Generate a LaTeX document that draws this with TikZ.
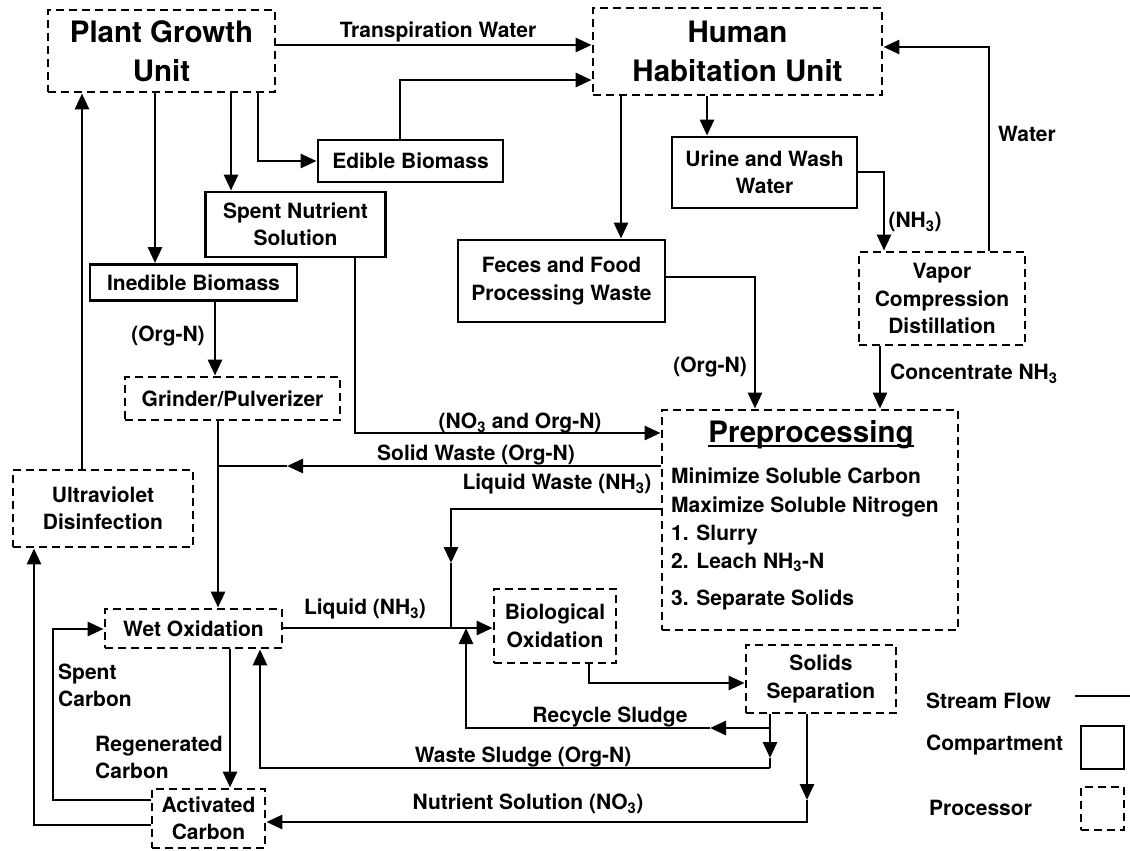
\documentclass[tikz,border=0pt]{standalone}
\usepackage{fontspec}
\setmainfont{TeX Gyre Heros}
\usetikzlibrary{arrows.meta}
\newcommand\lblfont{\fontsize{21}{27.5}\selectfont\bfseries}
\newcommand\bigfont{\fontsize{29.5}{39}\selectfont\bfseries}
\tikzset{
  box/.style={draw, line width=2.9pt, inner sep=0pt, align=center, font=\lblfont},
  comp/.style={box},
  proc/.style={box, dash pattern=on 8pt off 5pt},
  lbl/.style={font=\lblfont, inner sep=0pt, text height=15pt, text depth=0pt},
  mlbl/.style={font=\lblfont, inner sep=0pt, align=left},
  ptxt/.style={font=\lblfont, inner sep=0pt, anchor=base west},
  ln/.style={line width=2.9pt},
  arr/.style={line width=2.9pt, -{Triangle[length=16pt,width=14pt]}},
}
\begin{document}
\begin{tikzpicture}[x=1pt,y=-1pt]
\useasboundingbox (0,0) rectangle (1130,851);
% boxes
\node[proc, font=\bigfont, minimum width=227pt, minimum height=82pt] (pgu) at (161.5,51) {Plant Growth\\Unit};
\node[proc, font=\bigfont, minimum width=289pt, minimum height=87pt] (hhu) at (737.5,51.5) {Human\\Habitation Unit};
\node[comp, minimum width=185pt, minimum height=42pt] (eb) at (410.5,161) {Edible Biomass};
\node[comp, minimum width=180pt, minimum height=65pt] (sns) at (295.5,224.5) {Spent Nutrient\\Solution};
\node[comp, minimum width=207pt, minimum height=36pt] (ib) at (193.5,282.5) {Inedible Biomass};
\node[comp, minimum width=185pt, minimum height=71pt] (uww) at (764.5,172.5) {Urine and Wash\\Water};
\node[comp, minimum width=207pt, minimum height=82pt] (ffpw) at (561.5,281) {Feces and Food\\Processing Waste};
\node[proc, minimum width=166pt, minimum height=93pt] (vcd) at (942,298.5) {Vapor\\Compression\\Distillation};
\node[proc, minimum width=215pt, minimum height=43pt] (gp) at (232.5,398.5) {Grinder/Pulverizer};
\node[proc, minimum width=296pt, minimum height=220pt] (pp) at (810,520) {};
\node[proc, minimum width=180pt, minimum height=77pt] (uv) at (103,508.5) {Ultraviolet\\Disinfection};
\node[proc, minimum width=177pt, minimum height=39pt] (wo) at (193.5,628.5) {Wet Oxidation};
\node[proc, minimum width=122pt, minimum height=74pt] (bo) at (555,626) {Biological\\Oxidation};
\node[proc, minimum width=150pt, minimum height=68pt] (ss) at (821,679) {Solids\\Separation};
\node[proc, minimum width=113pt, minimum height=59pt] (ac) at (208.5,818.5) {Activated\\Carbon};
% preprocessing contents
\node[font=\bigfont, inner sep=0pt, anchor=base] (ttl) at (811,442) {Preprocessing};
\draw[line width=2pt] ([yshift=-3.5pt]ttl.base west) -- ([yshift=-3.5pt]ttl.base east);
\node[ptxt] (p1) at (671,483) {Minimize Soluble Carbon};
\node[ptxt] (p2) at (671,512) {Maximize Soluble Nitrogen};
\node[ptxt] (p3) at (671,540) {1. Slurry};
\node[ptxt] (p4) at (671,568) {2. Leach NH\textsubscript{3}-N};
\node[ptxt] (p5) at (671,605) {3. Separate Solids};
% labels
\node[lbl] (ltw) at (438,30) {Transpiration Water};
\node[lbl] (lorg1) at (168,334) {(Org-N)};
\node[lbl] (lno3) at (520,421) {(NO\textsubscript{3} and Org-N)};
\node[lbl] (lsw) at (476,453) {Solid Waste (Org-N)};
\node[lbl] (llw) at (557,482) {Liquid Waste (NH\textsubscript{3})};
\node[lbl] (lliq) at (365,607) {Liquid (NH\textsubscript{3})};
\node[lbl] (lrs) at (610,715) {Recycle Sludge};
\node[lbl] (lws) at (523,755) {Waste Sludge (Org-N)};
\node[lbl] (lns) at (528,802) {Nutrient Solution (NO\textsubscript{3})};
\node[mlbl, anchor=west] (lrc) at (95,757.5) {Regenerated\\Carbon};
\node[mlbl, anchor=west] (lsc) at (58,685.5) {Spent\\Carbon};
\node[lbl] (lnh3) at (915,220) {(NH\textsubscript{3})};
\node[lbl] (lwat) at (1027,134) {Water};
\node[lbl] (lorg2) at (710,365) {(Org-N)};
\node[lbl, anchor=west] (lcn) at (890,372) {Concentrate NH\textsubscript{3}};
% junction coordinates
\coordinate (sw) at (218,466);
\coordinate (swa) at (287,466);
\coordinate (lw1) at (451,509);
\coordinate (lwa) at (451,563);
\coordinate (lw2) at (451,628);
\coordinate (s1) at (770,728);
\coordinate (s1a) at (770,758);
\coordinate (s1b) at (770,768);
\coordinate (ra) at (710,728);
\coordinate (r2) at (466,728);
\coordinate (r3) at (466,628);
\coordinate (n1) at (807,800);
\coordinate (n2) at (807,822);
\coordinate (sc) at (53,629);
% connectors
\draw[arr] (pgu.east |- 0,45) -- (hhu.west |- 0,45);
\draw[arr] (pgu.south -| 258,0) |- (eb.west);
\draw[arr] (eb.north -| 400,0) |- (hhu.west |- 0,80);
\draw[arr] (pgu.south -| 231,0) -- (sns.north -| 231,0);
\draw[arr] (pgu.south -| 155,0) -- (ib.north -| 155,0);
\draw[arr] (sns.south -| 355,0) |- (pp.west |- 0,433);
\draw[arr] (ib.south -| 215,0) -- (gp.north -| 215,0);
\draw[arr] (gp.south -| 218,0) -- (wo.north -| 218,0);
\draw[arr] (pp.west |- sw) -- (swa);
\draw[ln] (swa) -- (sw);
\draw[arr] (pp.west |- lw1) -- (lw1) -- (lwa);
\draw[ln] (lwa) -- (lw2);
\draw[arr] (wo.east |- 0,628) -- (bo.west |- 0,628);
\draw[arr] (bo.south -| 589,0) |- (ss.west |- 0,683);
\draw[ln] (ss.south -| s1) -- (s1);
\draw[arr] (s1) -- (s1a);
\draw[ln] (s1a) -- (s1b);
\draw[arr] (s1) -- (ra);
\draw[arr] (ra) -- (r2) -- (r3);
\draw[arr] (s1b) -| (wo.south -| 260,0);
\draw[arr] (ss.south -| n1) -- (n1);
\draw[arr] (n1) -- (n2) -- (ac.east |- n2);
\draw[arr] (wo.south -| 230,0) -- (ac.north -| 230,0);
\draw[arr] (ac.west |- 0,800) -| (sc) -- (wo.west |- sc);
\draw[arr] (ac.west |- 0,825) -| (uv.south -| 34,0);
\draw[arr] (uv.north -| 82,0) -- (pgu.south -| 82,0);
\draw[arr] (hhu.south -| 621,0) -- (ffpw.north -| 621,0);
\draw[arr] (hhu.south -| 707,0) -- (uww.north -| 707,0);
\draw[arr] (uww.east |- 0,172) -| (vcd.north -| 884,0);
\draw[arr] (vcd.north -| 989,0) |- (hhu.east |- 0,47);
\draw[arr] (ffpw.east |- 0,277) -| (pp.north -| 755,0);
\draw[arr] (vcd.south -| 880,0) -- (pp.north -| 880,0);
% legend
\coordinate (lf1) at (1075,696);
\coordinate (lf2) at (1130,696);
\draw[ln] (lf1) -- (lf2);
\node[lbl, anchor=west] (lgs) at (926,701) {Stream Flow};
\node[lbl, anchor=west] (lgc) at (926,743) {Compartment};
\node[lbl, anchor=west] (lgp) at (929,808) {Processor};
\node[comp, minimum width=43pt, minimum height=43pt] (lbc) at (1102.5,747.5) {};
\node[proc, minimum width=43pt, minimum height=43pt] (lbp) at (1102.5,808.5) {};
\end{tikzpicture}
\end{document}
